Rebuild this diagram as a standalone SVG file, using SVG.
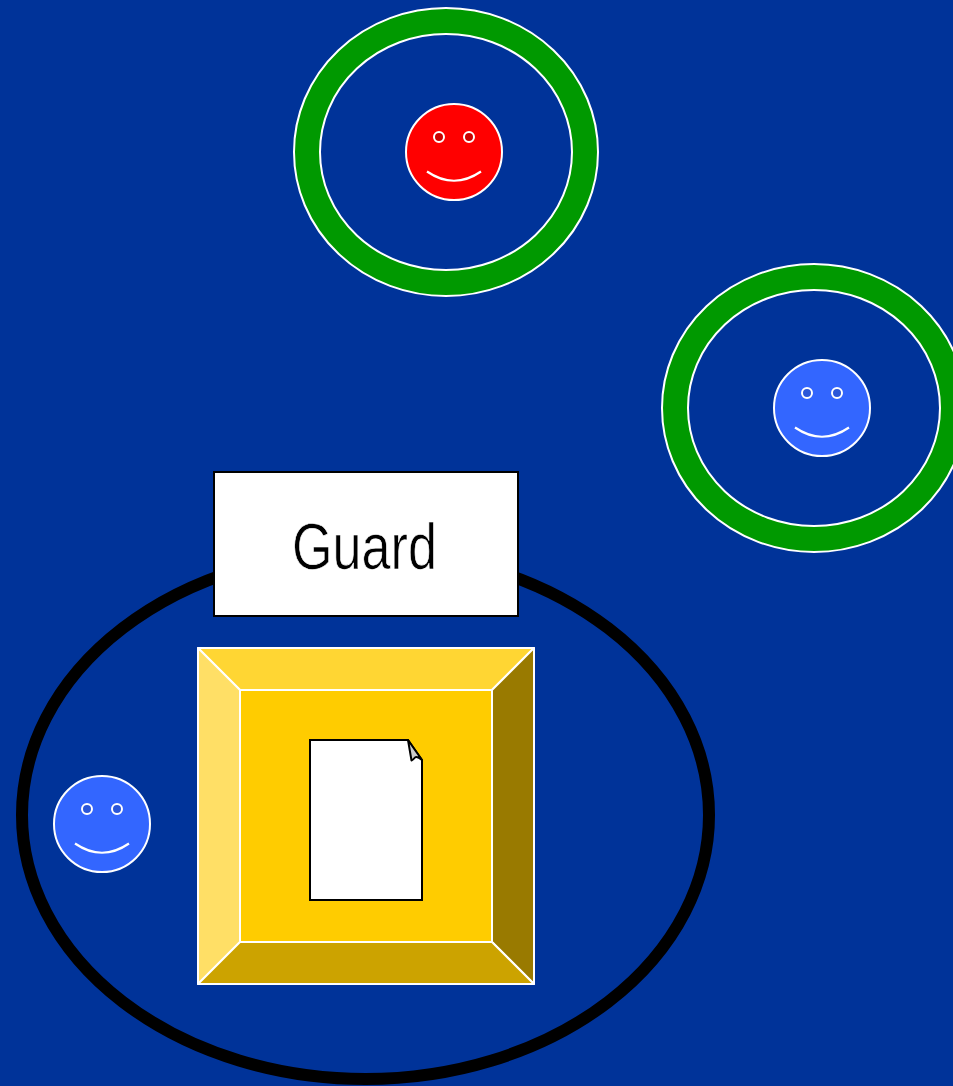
<svg xmlns="http://www.w3.org/2000/svg" width="953" height="1086" viewBox="0 0 953 1086">
<style>
.ring{fill:#009900;stroke:#fff;stroke-width:2}
.hole{fill:#003399;stroke:#fff;stroke-width:2}
.face{stroke:#fff;stroke-width:2}
.blue{fill:#3366ff}
.red{fill:#ff0000}
.eb{fill:#2b57d9;stroke:#fff;stroke-width:2}
.er{fill:#cc0000;stroke:#fff;stroke-width:2}
.smile{fill:none;stroke:#fff;stroke-width:2.2}
.bevel{stroke:#fff;stroke-width:2;stroke-linejoin:round}
.doc{fill:#fff;stroke:#000;stroke-width:2}
</style>
<defs>
<g id="smiley-lines">
<path class="smile" d="M-27 19.500Q0 38 27 19.500"/>
</g>
</defs>
<rect width="953" height="1086" fill="#003399"/>
<g id="ring-top">
<ellipse class="ring" cx="446" cy="152" rx="152" ry="144"/>
<ellipse class="hole" cx="446" cy="152" rx="126" ry="118"/>
</g>
<g id="face-red">
<circle class="face red" cx="454" cy="152" r="48"/>
<circle class="er" cx="439" cy="137" r="5"/>
<circle class="er" cx="469" cy="137" r="5"/>
<use href="#smiley-lines" x="454" y="152"/>
</g>
<g id="ring-right">
<ellipse class="ring" cx="814" cy="408" rx="152" ry="144"/>
<ellipse class="hole" cx="814" cy="408" rx="126" ry="118"/>
</g>
<g id="face-right">
<circle class="face blue" cx="822" cy="408" r="48"/>
<circle class="eb" cx="807" cy="393" r="5"/>
<circle class="eb" cx="837" cy="393" r="5"/>
<use href="#smiley-lines" x="822" y="408"/>
</g>
<g id="boundary">
<ellipse cx="365.500" cy="815" rx="343.500" ry="264" fill="none" stroke="#000" stroke-width="12"/>
</g>
<g id="guard">
<rect x="214" y="472" width="304" height="144" fill="#fff" stroke="#000" stroke-width="2"/>
<text transform="translate(364.500 569) scale(0.815 1)" text-anchor="middle" font-family="'Liberation Sans',Arial,sans-serif" font-size="64" fill="#000" stroke="#fff" stroke-width="0.7">Guard</text>
</g>
<g id="safe">
<polygon class="bevel" fill="#ffd633" points="198,648 534,648 492,690 240,690"/>
<polygon class="bevel" fill="#ffdf66" points="198,648 240,690 240,942 198,984"/>
<polygon class="bevel" fill="#997a00" points="534,648 534,984 492,942 492,690"/>
<polygon class="bevel" fill="#cca300" points="198,984 240,942 492,942 534,984"/>
<rect x="240" y="690" width="252" height="252" fill="#ffcc00" stroke="#fff" stroke-width="2"/>
</g>
<g id="document">
<path class="doc" d="M310 740H408L422 760V900H310Z"/>
<path d="M408 740L422 760Q417 756 415 757.500Q413 760 411.500 760.500Z" fill="#ccc" stroke="#000" stroke-width="2" stroke-linejoin="round"/>
</g>
<g id="face-left">
<circle class="face blue" cx="102" cy="824" r="48"/>
<circle class="eb" cx="87" cy="809" r="5"/>
<circle class="eb" cx="117" cy="809" r="5"/>
<use href="#smiley-lines" x="102" y="824"/>
</g>
</svg>
